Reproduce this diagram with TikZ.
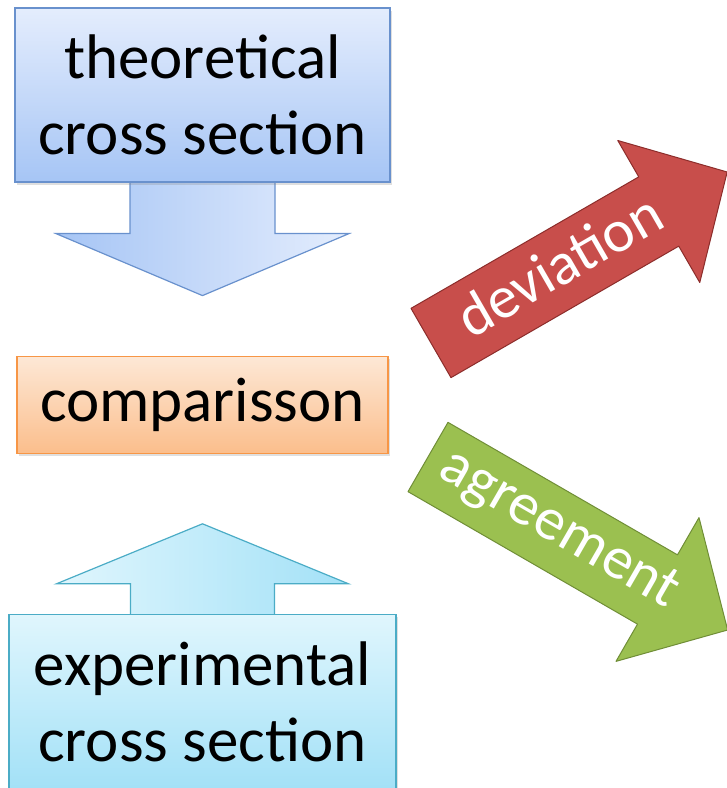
\documentclass[tikz,border=0pt]{standalone}
\usepackage{fontspec}
\setmainfont{Carlito}
\usetikzlibrary{positioning,shadows,backgrounds}

\definecolor{theotop}{RGB}{228,237,253}
\definecolor{theobot}{RGB}{166,197,245}
\definecolor{theoline}{RGB}{105,145,205}
\definecolor{cmptop}{RGB}{253,232,214}
\definecolor{cmpbot}{RGB}{251,190,140}
\definecolor{cmpline}{RGB}{247,150,70}
\definecolor{exptop}{RGB}{224,246,253}
\definecolor{expbot}{RGB}{163,225,247}
\definecolor{expline}{RGB}{75,172,198}
\definecolor{devred}{RGB}{200,78,75}
\definecolor{devline}{RGB}{140,45,43}
\definecolor{agrgreen}{RGB}{155,192,80}
\definecolor{agrline}{RGB}{112,142,55}

\tikzset{
  bigtext/.style={font=\fontsize{63}{76}\selectfont},
  xsbox/.style={draw, line width=1.2pt, align=center, inner sep=0pt, bigtext,
    drop shadow={opacity=0.25, shadow xshift=1.5pt, shadow yshift=-3pt}},
  theobox/.style={xsbox, draw=theoline, top color=theotop, bottom color=theobot,
    minimum width=375pt, minimum height=174pt},
  cmpbox/.style={xsbox, draw=cmpline, top color=cmptop, bottom color=cmpbot,
    minimum width=371pt, minimum height=97pt},
  expbox/.style={xsbox, draw=expline, top color=exptop, bottom color=expbot,
    minimum width=387pt, minimum height=174pt},
  downarr/.style={draw=theoline, line width=1.2pt, left color=theobot, right color=theotop},
  uparr/.style={draw=expline, line width=1.2pt, left color=exptop, right color=expbot},
  resarr/.style={line width=1pt, line join=round},
  restext/.style={text=white, inner sep=0pt, font=\fontsize{60}{70}\selectfont}
}

\begin{document}
\begin{tikzpicture}[x=1pt, y=1pt]
    \useasboundingbox (0,0) rectangle (727,788);

    % boxes
    \node[theobox] (theory) at (202.5,693) {theoretical\\cross section};
    \node[cmpbox, below=173pt of theory] (compare) {comparisson};
    \node[expbox, below=160pt of compare] (expt) {experimental\\cross section};

    % block arrows into the comparison
    \begin{scope}[on background layer]
    \draw[downarr] (theory.south) ++(-72.5,2) -- ++(0,-53) -- ++(-74,0)
        -- ++(146.5,-62) -- ++(146.5,62) -- ++(-74,0) -- ++(0,53) -- cycle;
    \draw[uparr] (expt.north) ++(-72,-2) -- ++(0,32) -- ++(-74,0)
        -- ++(146,60) -- ++(146,-60) -- ++(-74,0) -- ++(0,-32) -- cycle;
    \end{scope}

    % results
    \begin{scope}[shift={(431,445)}, rotate=30]
    \filldraw[resarr, fill=devred, draw=devline] (0,-40) -- (263,-40) -- (263,-82)
        -- (342,0) -- (263,82) -- (263,40) -- (0,40) -- cycle;
    \node[restext, rotate=30] (devi) at (150,4) {deviation};
    \end{scope}
    \begin{scope}[shift={(428,331)}, rotate=-30]
    \filldraw[resarr, fill=agrgreen, draw=agrline] (0,-40) -- (265,-40) -- (265,-83)
        -- (346,0) -- (265,83) -- (265,40) -- (0,40) -- cycle;
    \node[restext, rotate=-30] (agree) at (150,2) {agreement};
    \end{scope}
\end{tikzpicture}
\end{document}
